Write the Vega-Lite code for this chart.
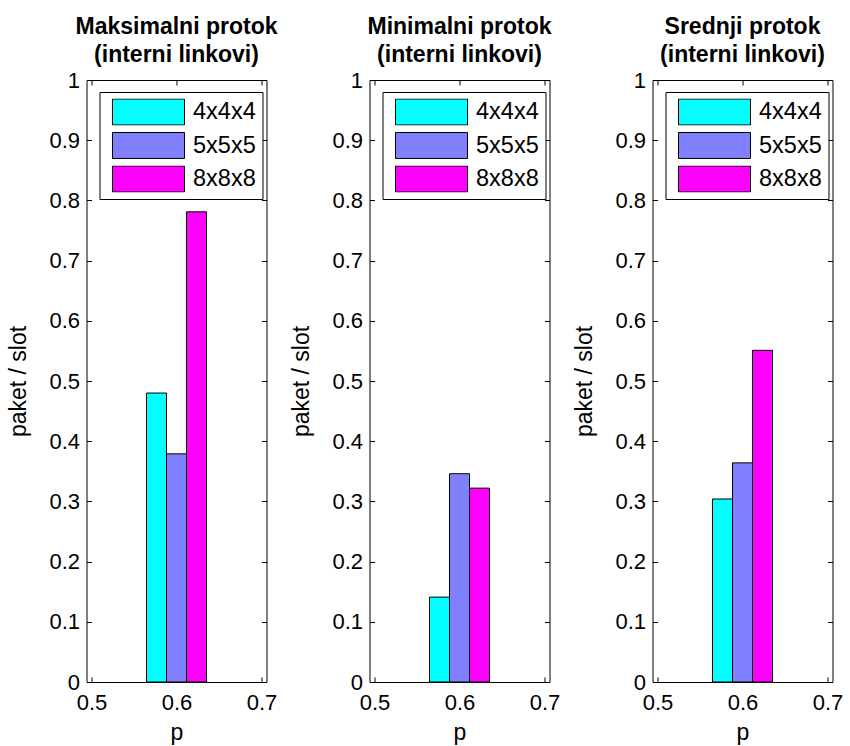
{
  "$schema": "https://vega.github.io/schema/vega-lite/v6.json",
  "background": "white",
  "padding": {"left": 6.5, "top": 15, "right": 5, "bottom": 5},
  "config": {
    "view": {"stroke": null},
    "font": "Liberation Sans",
    "axis": {
      "grid": false,
      "labelFont": "Liberation Sans",
      "labelFontSize": 22,
      "labelColor": "#000",
      "labelFlush": false,
      "labelOverlap": false,
      "titleFont": "Liberation Sans",
      "titleFontSize": 23,
      "titleFontWeight": "normal",
      "titleColor": "#000",
      "domainColor": "#000",
      "domainWidth": 1,
      "tickColor": "#000",
      "tickWidth": 1,
      "tickSize": -5
    },
    "title": {
      "font": "Liberation Sans",
      "fontSize": 23,
      "fontWeight": "bold",
      "color": "#000",
      "lineHeight": 28,
      "offset": 2.5,
      "anchor": "middle"
    },
    "legend": {
      "orient": "none",
      "legendX": 13,
      "legendY": 12,
      "symbolType": "M-0.846,-0.333H1V0.333H-0.846Z",
      "symbolSize": 6084,
      "symbolStrokeColor": "#000",
      "symbolStrokeWidth": 1,
      "symbolOpacity": 1,
      "clipHeight": 27,
      "rowPadding": 6.5,
      "padding": 6.5,
      "labelOffset": 8,
      "labelFont": "Liberation Sans",
      "labelFontSize": 23.5,
      "labelColor": "#000",
      "strokeColor": "#000",
      "fillColor": "#fff",
      "cornerRadius": 0
    }
  },
  "data": {
    "values": [
      {"panel": "max", "p": 0.6, "grid": "4x4x4", "value": 0.48},
      {"panel": "max", "p": 0.6, "grid": "5x5x5", "value": 0.379},
      {"panel": "max", "p": 0.6, "grid": "8x8x8", "value": 0.781},
      {"panel": "min", "p": 0.6, "grid": "4x4x4", "value": 0.141},
      {"panel": "min", "p": 0.6, "grid": "5x5x5", "value": 0.346},
      {"panel": "min", "p": 0.6, "grid": "8x8x8", "value": 0.322},
      {"panel": "avg", "p": 0.6, "grid": "4x4x4", "value": 0.304},
      {"panel": "avg", "p": 0.6, "grid": "5x5x5", "value": 0.364},
      {"panel": "avg", "p": 0.6, "grid": "8x8x8", "value": 0.551}
    ]
  },
  "spacing": 103,
  "bounds": "flush",
  "resolve": {"scale": {"color": "independent"}, "legend": {"color": "independent"}},
  "hconcat": [
    {
      "width": 180, "height": 602,
      "title": {"text": ["Maksimalni protok", "(interni linkovi)"]},
      "transform": [{"filter": "datum.panel === 'max'"}],
      "resolve": {"axis": {"x": "independent", "y": "independent"}},
      "layer": [
        {
          "transform": [{"filter": "datum.grid === '4x4x4'"}],
          "mark": {"type": "bar", "width": 20, "xOffset": -20, "stroke": "#000", "strokeWidth": 1},
          "encoding": {
            "x": {"field": "p", "type": "quantitative", "scale": {"domain": [0.5, 0.7], "nice": false, "zero": false},
                  "axis": {"values": [0.5, 0.6, 0.7], "format": "~g", "labelPadding": 15, "title": "p", "titlePadding": 8}},
            "y": {"field": "value", "type": "quantitative", "scale": {"domain": [0, 1], "nice": false},
                  "axis": {"values": [0, 0.1, 0.2, 0.3, 0.4, 0.5, 0.6, 0.7, 0.8, 0.9, 1], "format": "~g", "labelPadding": 12, "title": "paket / slot", "titlePadding": 18.5}},
            "color": {"field": "grid", "type": "nominal", "scale": {"domain": ["4x4x4", "5x5x5", "8x8x8"], "range": ["#00FFFF", "#8080FF", "#FF00FF"]}, "legend": {"title": null}}
          }
        },
        {
          "transform": [{"filter": "datum.grid === '5x5x5'"}],
          "mark": {"type": "bar", "width": 20, "xOffset": 0, "stroke": "#000", "strokeWidth": 1},
          "encoding": {
            "x": {"field": "p", "type": "quantitative", "scale": {"domain": [0.5, 0.7], "nice": false, "zero": false}, "axis": null},
            "y": {"field": "value", "type": "quantitative", "scale": {"domain": [0, 1], "nice": false}, "axis": null},
            "color": {"field": "grid", "type": "nominal", "scale": {"domain": ["4x4x4", "5x5x5", "8x8x8"], "range": ["#00FFFF", "#8080FF", "#FF00FF"]}, "legend": {"title": null}}
          }
        },
        {
          "transform": [{"filter": "datum.grid === '8x8x8'"}],
          "mark": {"type": "bar", "width": 20, "xOffset": 20, "stroke": "#000", "strokeWidth": 1},
          "encoding": {
            "x": {"field": "p", "type": "quantitative", "scale": {"domain": [0.5, 0.7], "nice": false, "zero": false}, "axis": null},
            "y": {"field": "value", "type": "quantitative", "scale": {"domain": [0, 1], "nice": false}, "axis": null},
            "color": {"field": "grid", "type": "nominal", "scale": {"domain": ["4x4x4", "5x5x5", "8x8x8"], "range": ["#00FFFF", "#8080FF", "#FF00FF"]}, "legend": {"title": null}}
          }
        },
        {
          "mark": {"type": "point", "opacity": 0},
          "encoding": {
            "x": {"field": "p", "type": "quantitative", "scale": {"domain": [0.5, 0.7], "nice": false, "zero": false},
                  "axis": {"orient": "top", "values": [0.5, 0.6, 0.7], "labels": false, "title": null}},
            "y": {"field": "value", "type": "quantitative", "scale": {"domain": [0, 1], "nice": false},
                  "axis": {"orient": "right", "values": [0, 0.1, 0.2, 0.3, 0.4, 0.5, 0.6, 0.7, 0.8, 0.9, 1], "labels": false, "title": null}}
          }
        }
      ]
    },
    {
      "width": 180, "height": 602,
      "title": {"text": ["Minimalni protok", "(interni linkovi)"]},
      "transform": [{"filter": "datum.panel === 'min'"}],
      "resolve": {"axis": {"x": "independent", "y": "independent"}},
      "layer": [
        {
          "transform": [{"filter": "datum.grid === '4x4x4'"}],
          "mark": {"type": "bar", "width": 20, "xOffset": -20, "stroke": "#000", "strokeWidth": 1},
          "encoding": {
            "x": {"field": "p", "type": "quantitative", "scale": {"domain": [0.5, 0.7], "nice": false, "zero": false},
                  "axis": {"values": [0.5, 0.6, 0.7], "format": "~g", "labelPadding": 15, "title": "p", "titlePadding": 8}},
            "y": {"field": "value", "type": "quantitative", "scale": {"domain": [0, 1], "nice": false},
                  "axis": {"values": [0, 0.1, 0.2, 0.3, 0.4, 0.5, 0.6, 0.7, 0.8, 0.9, 1], "format": "~g", "labelPadding": 12, "title": "paket / slot", "titlePadding": 18.5}},
            "color": {"field": "grid", "type": "nominal", "scale": {"domain": ["4x4x4", "5x5x5", "8x8x8"], "range": ["#00FFFF", "#8080FF", "#FF00FF"]}, "legend": {"title": null}}
          }
        },
        {
          "transform": [{"filter": "datum.grid === '5x5x5'"}],
          "mark": {"type": "bar", "width": 20, "xOffset": 0, "stroke": "#000", "strokeWidth": 1},
          "encoding": {
            "x": {"field": "p", "type": "quantitative", "scale": {"domain": [0.5, 0.7], "nice": false, "zero": false}, "axis": null},
            "y": {"field": "value", "type": "quantitative", "scale": {"domain": [0, 1], "nice": false}, "axis": null},
            "color": {"field": "grid", "type": "nominal", "scale": {"domain": ["4x4x4", "5x5x5", "8x8x8"], "range": ["#00FFFF", "#8080FF", "#FF00FF"]}, "legend": {"title": null}}
          }
        },
        {
          "transform": [{"filter": "datum.grid === '8x8x8'"}],
          "mark": {"type": "bar", "width": 20, "xOffset": 20, "stroke": "#000", "strokeWidth": 1},
          "encoding": {
            "x": {"field": "p", "type": "quantitative", "scale": {"domain": [0.5, 0.7], "nice": false, "zero": false}, "axis": null},
            "y": {"field": "value", "type": "quantitative", "scale": {"domain": [0, 1], "nice": false}, "axis": null},
            "color": {"field": "grid", "type": "nominal", "scale": {"domain": ["4x4x4", "5x5x5", "8x8x8"], "range": ["#00FFFF", "#8080FF", "#FF00FF"]}, "legend": {"title": null}}
          }
        },
        {
          "mark": {"type": "point", "opacity": 0},
          "encoding": {
            "x": {"field": "p", "type": "quantitative", "scale": {"domain": [0.5, 0.7], "nice": false, "zero": false},
                  "axis": {"orient": "top", "values": [0.5, 0.6, 0.7], "labels": false, "title": null}},
            "y": {"field": "value", "type": "quantitative", "scale": {"domain": [0, 1], "nice": false},
                  "axis": {"orient": "right", "values": [0, 0.1, 0.2, 0.3, 0.4, 0.5, 0.6, 0.7, 0.8, 0.9, 1], "labels": false, "title": null}}
          }
        }
      ]
    },
    {
      "width": 180, "height": 602,
      "title": {"text": ["Srednji protok", "(interni linkovi)"]},
      "transform": [{"filter": "datum.panel === 'avg'"}],
      "resolve": {"axis": {"x": "independent", "y": "independent"}},
      "layer": [
        {
          "transform": [{"filter": "datum.grid === '4x4x4'"}],
          "mark": {"type": "bar", "width": 20, "xOffset": -20, "stroke": "#000", "strokeWidth": 1},
          "encoding": {
            "x": {"field": "p", "type": "quantitative", "scale": {"domain": [0.5, 0.7], "nice": false, "zero": false},
                  "axis": {"values": [0.5, 0.6, 0.7], "format": "~g", "labelPadding": 15, "title": "p", "titlePadding": 8}},
            "y": {"field": "value", "type": "quantitative", "scale": {"domain": [0, 1], "nice": false},
                  "axis": {"values": [0, 0.1, 0.2, 0.3, 0.4, 0.5, 0.6, 0.7, 0.8, 0.9, 1], "format": "~g", "labelPadding": 12, "title": "paket / slot", "titlePadding": 18.5}},
            "color": {"field": "grid", "type": "nominal", "scale": {"domain": ["4x4x4", "5x5x5", "8x8x8"], "range": ["#00FFFF", "#8080FF", "#FF00FF"]}, "legend": {"title": null}}
          }
        },
        {
          "transform": [{"filter": "datum.grid === '5x5x5'"}],
          "mark": {"type": "bar", "width": 20, "xOffset": 0, "stroke": "#000", "strokeWidth": 1},
          "encoding": {
            "x": {"field": "p", "type": "quantitative", "scale": {"domain": [0.5, 0.7], "nice": false, "zero": false}, "axis": null},
            "y": {"field": "value", "type": "quantitative", "scale": {"domain": [0, 1], "nice": false}, "axis": null},
            "color": {"field": "grid", "type": "nominal", "scale": {"domain": ["4x4x4", "5x5x5", "8x8x8"], "range": ["#00FFFF", "#8080FF", "#FF00FF"]}, "legend": {"title": null}}
          }
        },
        {
          "transform": [{"filter": "datum.grid === '8x8x8'"}],
          "mark": {"type": "bar", "width": 20, "xOffset": 20, "stroke": "#000", "strokeWidth": 1},
          "encoding": {
            "x": {"field": "p", "type": "quantitative", "scale": {"domain": [0.5, 0.7], "nice": false, "zero": false}, "axis": null},
            "y": {"field": "value", "type": "quantitative", "scale": {"domain": [0, 1], "nice": false}, "axis": null},
            "color": {"field": "grid", "type": "nominal", "scale": {"domain": ["4x4x4", "5x5x5", "8x8x8"], "range": ["#00FFFF", "#8080FF", "#FF00FF"]}, "legend": {"title": null}}
          }
        },
        {
          "mark": {"type": "point", "opacity": 0},
          "encoding": {
            "x": {"field": "p", "type": "quantitative", "scale": {"domain": [0.5, 0.7], "nice": false, "zero": false},
                  "axis": {"orient": "top", "values": [0.5, 0.6, 0.7], "labels": false, "title": null}},
            "y": {"field": "value", "type": "quantitative", "scale": {"domain": [0, 1], "nice": false},
                  "axis": {"orient": "right", "values": [0, 0.1, 0.2, 0.3, 0.4, 0.5, 0.6, 0.7, 0.8, 0.9, 1], "labels": false, "title": null}}
          }
        }
      ]
    }
  ]
}
